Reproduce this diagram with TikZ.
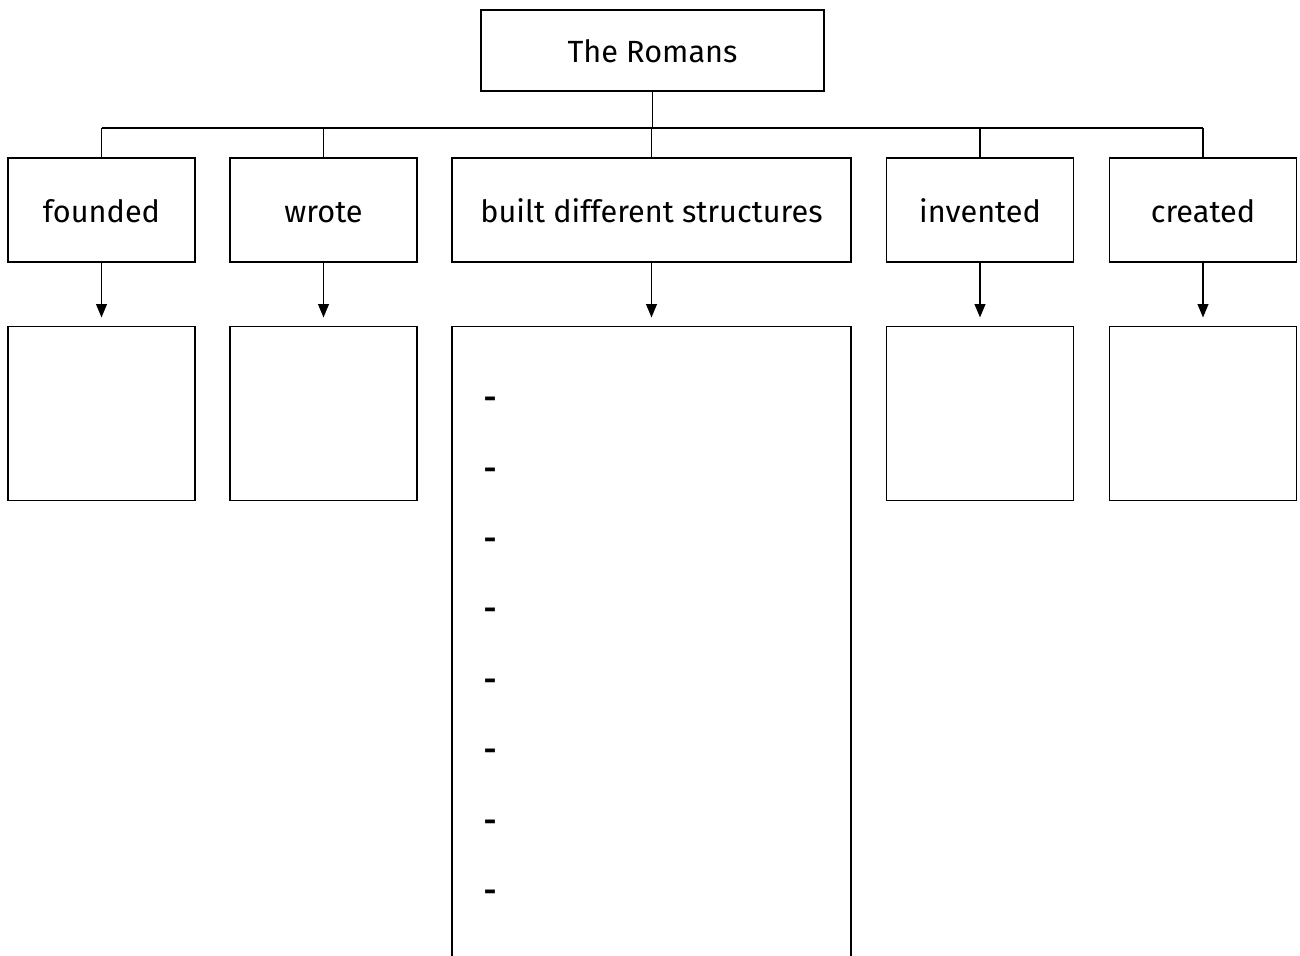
\documentclass[tikz,border=0pt]{standalone}
\usepackage{fontspec}
\setmainfont{Fira Sans}
\usetikzlibrary{arrows.meta}

\begin{document}
\begin{tikzpicture}[x=0.75pt,y=0.75pt,yscale=-1,xscale=1,
  box/.style={draw,line width=1.2pt,inner sep=0pt,text height=22pt,text depth=4pt,
    font=\fontsize{23}{27}\selectfont},
  topbox/.style={box,minimum width=257.25pt,minimum height=60.75pt},
  verbbox/.style={box,minimum width=140.25pt,minimum height=78pt},
  widebox/.style={box,minimum width=299.25pt,minimum height=78pt},
  answerbox/.style={box,minimum width=140.25pt,minimum height=130.5pt,anchor=north},
  listbox/.style={box,minimum width=299.25pt,minimum height=483.75pt,anchor=north},
  dashmark/.style={inner sep=0pt,font=\fontsize{23}{27}\bfseries\selectfont},
  link/.style={line width=1.2pt},
  arr/.style={link,-{Triangle[length=10pt,width=8pt]},shorten >=6pt}]
\useasboundingbox (0,0) rectangle (1300,956);
\clip (0,0) rectangle (1300,956);

% Top box
\node[topbox] (romans) at (652.5,50.5) {The Romans};

% Verb boxes
\node[verbbox] (founded) at (101.5,210) {founded};
\node[verbbox] (wrote) at (323.5,210) {wrote};
\node[widebox] (built) at (651.5,210) {built different structures};
\node[verbbox] (invented) at (980,210) {invented};
\node[verbbox] (created) at (1203,210) {created};

% Answer boxes
\node[answerbox] (ansfounded) at (101.5,325.5) {};
\node[answerbox] (answrote) at (323.5,325.5) {};
\node[listbox] (ansbuilt) at (651.5,325.5) {};
\node[answerbox] (ansinvented) at (980,325.5) {};
\node[answerbox] (anscreated) at (1203,325.5) {};

% Bus
\coordinate (bus) at (652.5,128);
\draw[link] (romans.south) -- (romans.south |- bus);
\draw[link] (founded.north |- bus) -- (created.north |- bus);
\foreach \v in {founded,wrote,built,invented,created}
  \draw[link] (\v.north |- bus) -- (\v.north);

% Arrows
\foreach \v in {founded,wrote,built,invented,created}
  \draw[arr] (\v.south) -- (ans\v.north);

% Dashes
\foreach \i in {0,...,7}
  \node[dashmark] (dash\i) at (490,403+70.4*\i) {-};

\end{tikzpicture}
\end{document}
